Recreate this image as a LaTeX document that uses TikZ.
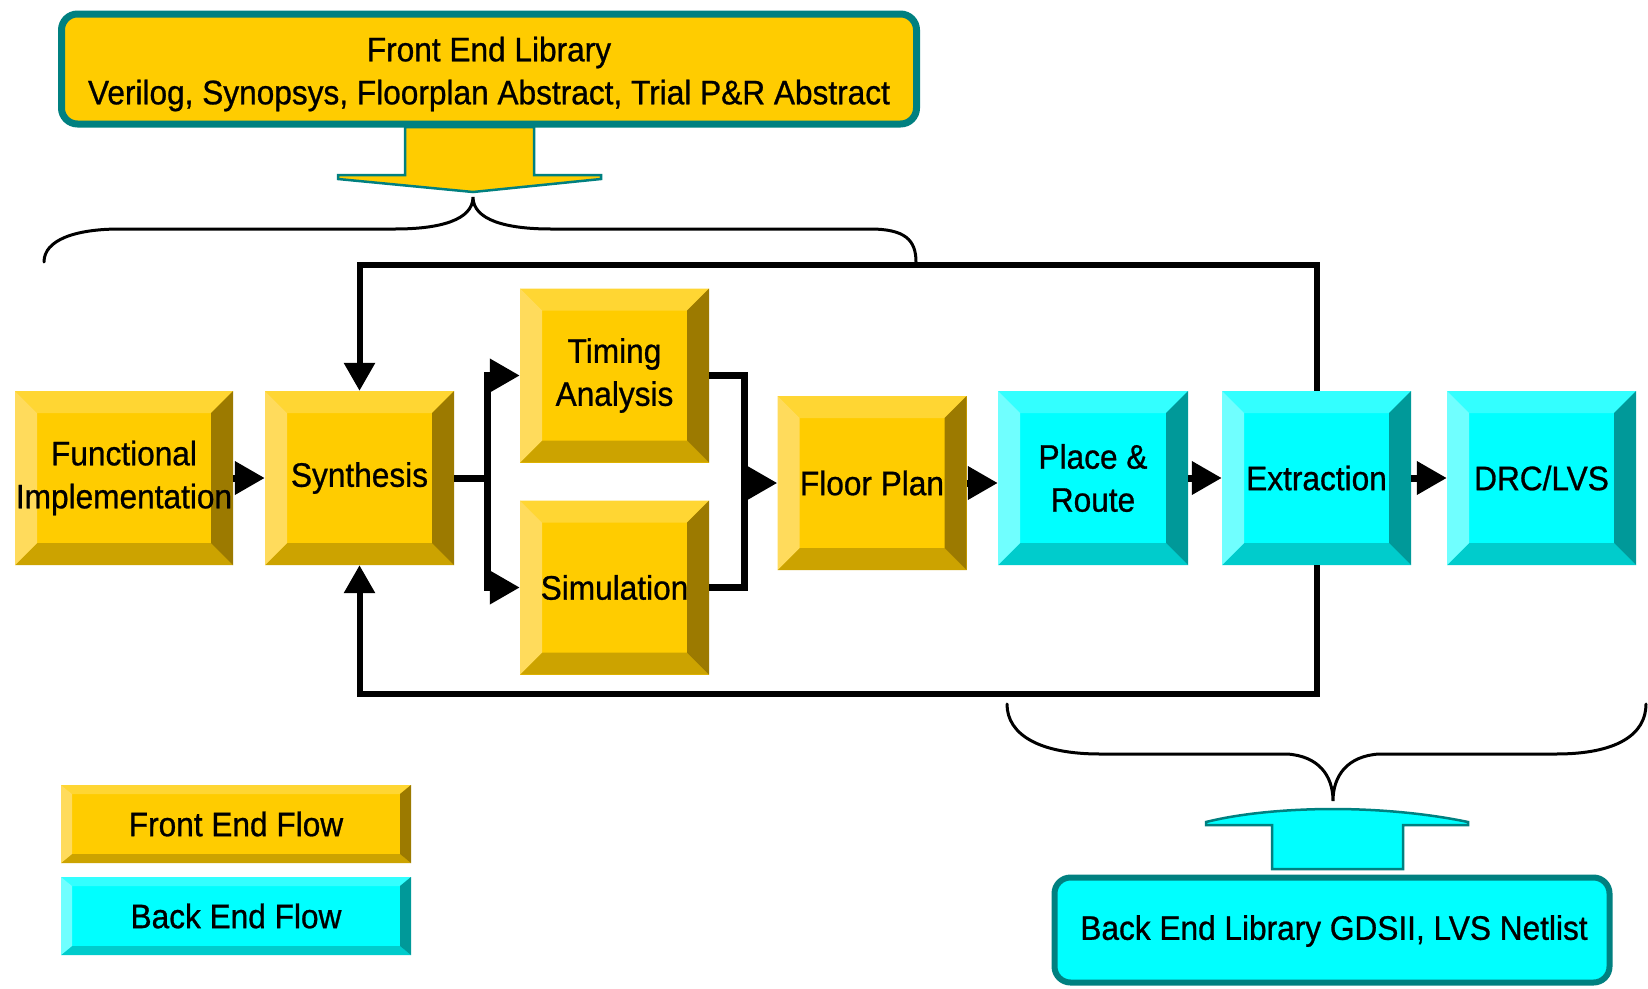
\documentclass[tikz,border=0pt]{standalone}
\usepackage{fontspec}
\setmainfont[FakeStretch=0.93,FakeBold=0.8]{Liberation Sans}
\usetikzlibrary{arrows.meta,calc}

% palettes for the bevelled blocks: centre, top, left, bottom, right
\definecolor{goldC}{HTML}{FFCC00}
\definecolor{goldT}{HTML}{FFD633}
\definecolor{goldL}{HTML}{FFDB5C}
\definecolor{goldB}{HTML}{CCA300}
\definecolor{goldR}{HTML}{9C7A00}
\definecolor{cyanC}{HTML}{00FFFF}
\definecolor{cyanT}{HTML}{33FFFF}
\definecolor{cyanL}{HTML}{70FFFF}
\definecolor{cyanB}{HTML}{00CCCC}
\definecolor{cyanR}{HTML}{009999}
\definecolor{libteal}{HTML}{008080}

\newcommand{\boxfont}{\fontsize{34}{43}\selectfont}

\tikzset{
  bevel/.style n args={3}{rectangle, inner sep=0pt, fill=#1C, align=center, font=\boxfont,
    path picture={
      \path (path picture bounding box.south west) coordinate (q1)
            (path picture bounding box.north east) coordinate (q2);
      \fill[#1T] (q1|-q2) -- (q2) -- ($(q2)+(-#2pt,-#3pt)$) -- ($(q1|-q2)+(#2pt,-#3pt)$) -- cycle;
      \fill[#1B] (q1) -- (q2|-q1) -- ($(q2|-q1)+(-#2pt,#3pt)$) -- ($(q1)+(#2pt,#3pt)$) -- cycle;
      \fill[#1L] (q1) -- (q1|-q2) -- ($(q1|-q2)+(#2pt,-#3pt)$) -- ($(q1)+(#2pt,#3pt)$) -- cycle;
      \fill[#1R] (q2|-q1) -- (q2) -- ($(q2)+(-#2pt,-#3pt)$) -- ($(q2|-q1)+(-#2pt,#3pt)$) -- cycle;
    }},
  stage/.style={bevel={#1}{22}{22}, minimum width=189, minimum height=174},
  legendbox/.style={bevel={#1}{11}{9}, minimum width=350, minimum height=78},
  libbox/.style={draw=libteal, rounded corners=16, inner sep=0pt},
  libtext/.style={align=center, inner sep=0pt, font=\boxfont},
  flow/.style={line width=7, line join=miter, -{Triangle[length=30pt,width=32pt]}},
  wire/.style={line width=7, line join=miter},
  feedback/.style={line width=6, line join=miter, -{Triangle[length=28pt,width=30pt]}},
  brace/.style={line width=3, line cap=round},
  blockarrow/.style={line width=2.5, draw=libteal, line join=miter},
}

\begin{document}
\begin{tikzpicture}[x=1pt,y=-1pt]
  \useasboundingbox[fill=white] (0,0) rectangle (1648,988);

  % libraries
  \node[libbox, fill=goldC, line width=7, minimum width=855, minimum height=110] (fel) at (489,69) {};
  \node[libtext] (feltext) at (489,74)
    {Front End Library\\Verilog, Synopsys, Floorplan Abstract, Trial P\&R Abstract};
  \node[libbox, fill=cyanC, line width=6, minimum width=555, minimum height=105] (bel) at (1332,930) {};
  \node[libtext] (beltext) at (1334,931) {Back End Library GDSII, LVS Netlist};

  % block arrows leaving / entering the libraries
  \filldraw[blockarrow, fill=goldC] (405,127) -- (534,127) -- (534,175) -- (601,175) -- (601,179)
    -- (473,192) -- (338,179) -- (338,175) -- (405,175) -- cycle;
  \filldraw[blockarrow, fill=cyanC] (1272,869) -- (1403,869) -- (1403,825) -- (1468,825) -- (1468,822)
    .. controls (1420,812) and (1370,809) .. (1333,809)
    .. controls (1296,809) and (1246,812) .. (1206,822) -- (1206,825) -- (1272,825) -- cycle;

  % braces
  \coordinate (tb) at (473,197);
  \draw[brace] (44,262) .. controls (44,240) and (75,229) .. (120,229) -- (395,229)
    .. controls (440,229) and (473,220) .. (tb)
    .. controls (473,220) and (506,229) .. (551,229) -- (870,229)
    .. controls (905,229) and (916,240) .. (916,262);
  \coordinate (bb) at (1333,801);
  \draw[brace] (1007,704) .. controls (1007,735) and (1040,754) .. (1100,754) -- (1287,754)
    .. controls (1318,756) and (1333,775) .. (bb)
    .. controls (1333,775) and (1348,756) .. (1379,754) -- (1556,754)
    .. controls (1616,754) and (1646,735) .. (1646,704);

  % flow stages
  \node[stage=gold, minimum width=218] (fi) at (124,478) {Functional\\Implementation};
  \node[stage=gold] (sy) at (359.5,478) {Synthesis};
  \node[stage=gold] (ta) at (614.5,375.5) {Timing\\Analysis};
  \node[stage=gold] (si) at (614.5,587.5) {Simulation};
  \node[stage=gold] (fp) at (872,483) {Floor Plan};
  \node[stage=cyan, minimum width=190] (pr) at (1093,478) {Place \&\\Route};
  \node[stage=cyan] (ex) at (1316.5,478) {Extraction};
  \node[stage=cyan] (dr) at (1541.5,478) {DRC/LVS};

  % legend
  \node[legendbox=gold] (lf) at (236,824) {Front End Flow};
  \node[legendbox=cyan] (lb) at (236,916) {Back End Flow};

  % forward connections
  \draw[flow] (fi) -- (sy);
  \coordinate (sp) at (487,478);
  \coordinate (mg) at (744,483);
  \draw[wire] (sy.east) -- (sp);
  \draw[flow] (sp) |- (ta.west);
  \draw[flow] (sp) |- (si.west);
  \draw[wire] (ta.east) -| (mg);
  \draw[wire] (si.east) -| (mg);
  \draw[flow] (mg) -- (fp.west);
  \draw[flow] (fp.east) -- (fp.east -| pr.west);
  \draw[flow] (pr) -- (ex);
  \draw[flow] (ex) -- (dr);

  % feedback loops from extraction back to synthesis
  \coordinate (ty) at (0,265);
  \coordinate (by) at (0,694);
  \draw[feedback] (ex.north) -- (ex.north |- ty) -- (sy.north |- ty) -- (sy.north);
  \draw[feedback] (ex.south) -- (ex.south |- by) -- (sy.south |- by) -- (sy.south);
\end{tikzpicture}
\end{document}
